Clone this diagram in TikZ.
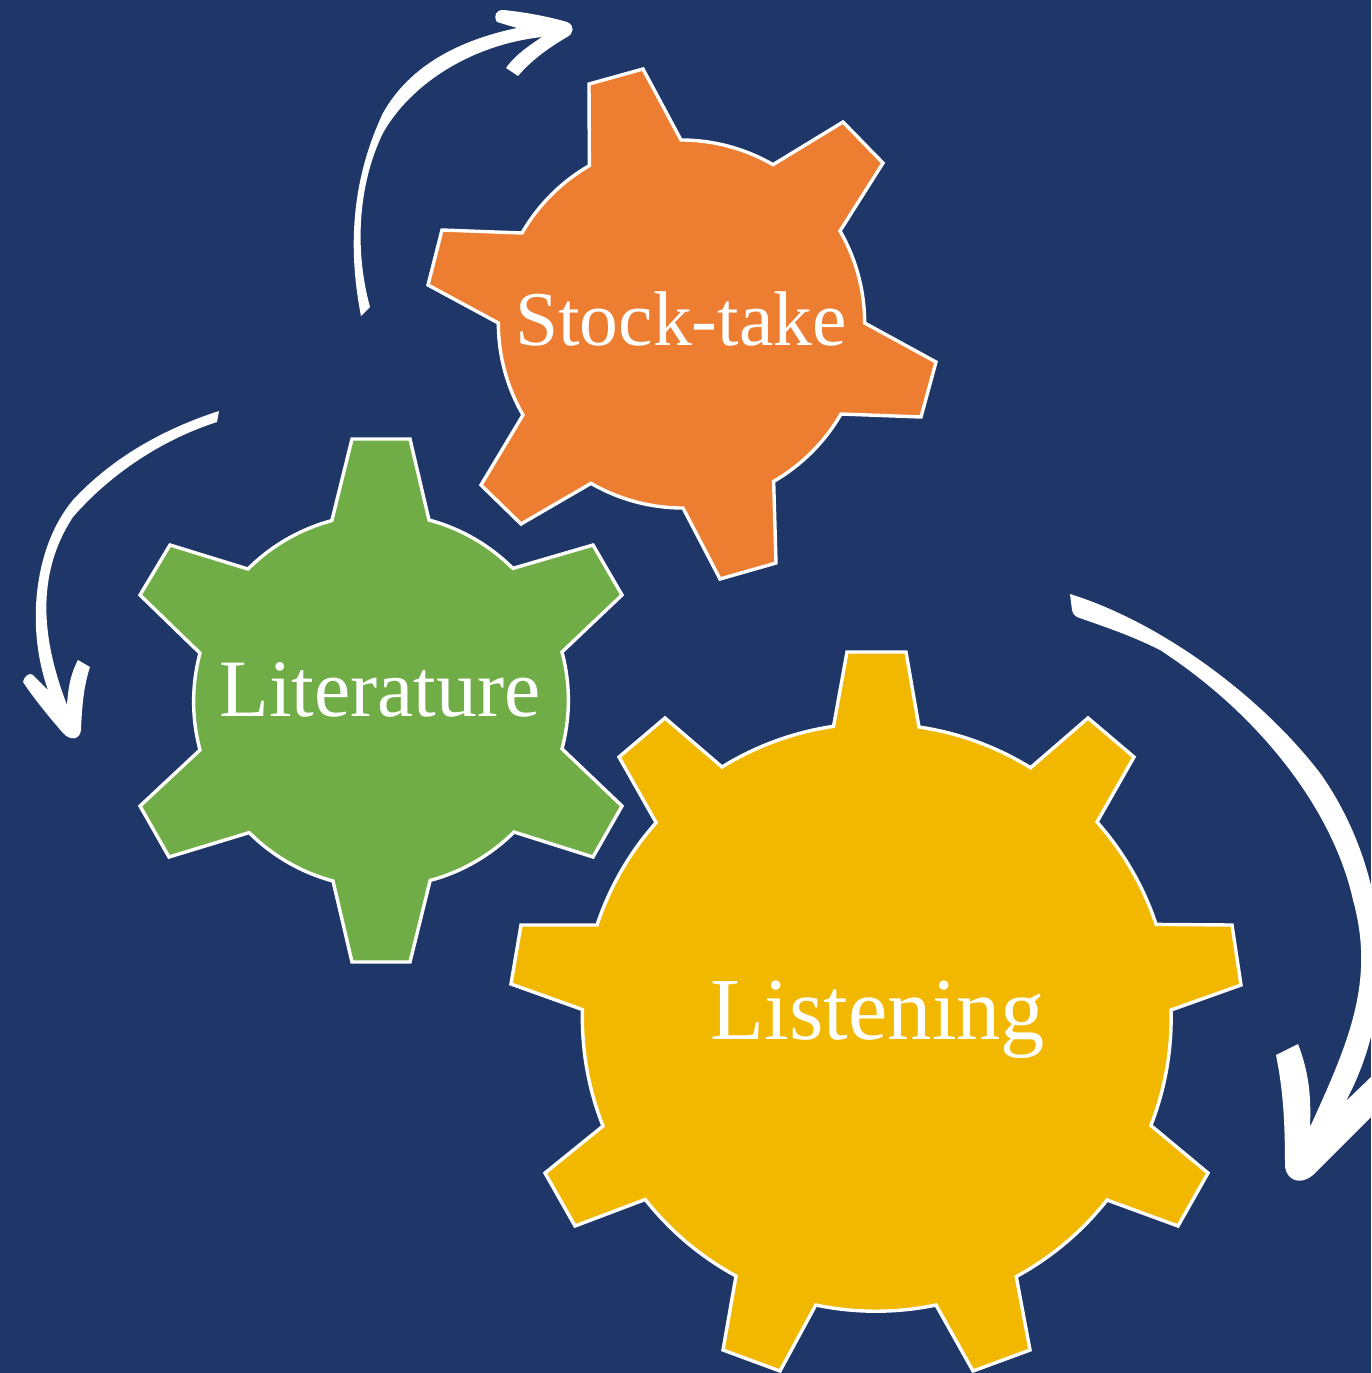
\documentclass[tikz,border=0pt]{standalone}
\usepackage{fontspec}
\setmainfont{Liberation Serif}
\definecolor{navybg}{HTML}{1F3668}
\definecolor{gearorange}{HTML}{ED7D31}
\definecolor{geargreen}{HTML}{70AD47}
\definecolor{gearyellow}{HTML}{F2B800}
\tikzset{
  gearshape/.style={draw=white,line width=3.4pt,line join=miter},
  gearlabel/.style={text=white,anchor=base,inner sep=0pt},
  sketcharrow/.style={fill=white,draw=none}
}
\begin{document}
\begin{tikzpicture}[x=1pt,y=-1pt]
\useasboundingbox (0,0) rectangle (1371,1373);
\fill[navybg] (0,0) rectangle (1371,1373);
\clip (0,0) rectangle (1371,1373);
% orange gear
\draw[gearshape,fill=gearorange]
 (681,140) arc[start angle=-90,end angle=-60,radius=184]
 -- (843,122) -- (883,163) -- (840,231) arc[start angle=-30,end angle=0,radius=184]
 -- (936,362) -- (921,417) -- (841,414) arc[start angle=30,end angle=60,radius=184]
 -- (776,563) -- (720,579) -- (683,508) arc[start angle=90,end angle=120,radius=184]
 -- (521,524) -- (481,485) -- (523,415) arc[start angle=150,end angle=180,radius=184]
 -- (428,285) -- (442,230) -- (522,233) arc[start angle=210,end angle=240,radius=184]
 -- (589,84) -- (643,69) -- cycle;
% green gear
\draw[gearshape,fill=geargreen]
 (429,520) arc[start angle=-75,end angle=-45,radius=187]
 -- (593,545) -- (622,595) -- (562,652) arc[start angle=-15,end angle=15,radius=187]
 -- (622,806) -- (593,857) -- (514,832) arc[start angle=45,end angle=75,radius=187]
 -- (410,962) -- (352,962) -- (333,881) arc[start angle=105,end angle=135,radius=187]
 -- (169,857) -- (140,806) -- (200,750) arc[start angle=165,end angle=195,radius=187]
 -- (140,595) -- (170,545) -- (248,569) arc[start angle=225,end angle=255,radius=187]
 -- (352,439) -- (410,439) -- cycle;
% yellow gear
\draw[gearshape,fill=gearyellow]
 (919,727) arc[start angle=-81.6,end angle=-58.3,radius=294]
 -- (1088,718) -- (1134,757) -- (1097,822) arc[start angle=-41.6,end angle=-18.4,radius=294]
 -- (1232,925) -- (1241,985) -- (1171,1010) arc[start angle=-1.6,end angle=21.4,radius=294]
 -- (1208,1173) -- (1178,1226) -- (1107,1200) arc[start angle=38.2,end angle=61.5,radius=294]
 -- (1030,1350) -- (973,1371) -- (936,1305) arc[start angle=78.2,end angle=101.8,radius=294]
 -- (780,1371) -- (723,1350) -- (736,1276) arc[start angle=118.5,end angle=141.8,radius=294]
 -- (575,1226) -- (545,1173) -- (603,1126) arc[start angle=158.4,end angle=181.6,radius=294]
 -- (511,984) -- (521,925) -- (597,925) arc[start angle=198.4,end angle=221.6,radius=294]
 -- (619,757) -- (665,718) -- (722,767) arc[start angle=238.3,end angle=261.6,radius=294]
 -- (847,652) -- (906,652) -- cycle;
% labels
\node[gearlabel,font=\fontsize{77.5}{78}\selectfont] (stock) at (681,345) {Stock-take};
\node[gearlabel,font=\fontsize{81.5}{82}\selectfont] (lit) at (380,716) {Literature};
\node[gearlabel,font=\fontsize{88.5}{89}\selectfont] (listen) at (878,1039) {Listening};
% top arrow
\fill[sketcharrow]
 (361,316) .. controls (349,255) and (349,185) .. (383,113)
 .. controls (410,65) and (460,40) .. (517,28)
 -- (497,22) .. controls (493,16) and (496,10) .. (503,10)
 .. controls (525,12) and (550,17) .. (567,22)
 .. controls (575,25) and (574,34) .. (567,37)
 .. controls (545,50) and (530,62) .. (518,76)
 -- (506,68) .. controls (515,55) and (530,45) .. (542,37)
 .. controls (470,45) and (410,85) .. (383,133)
 .. controls (360,180) and (353,245) .. (370,307) -- cycle;
% left arrow
\fill[sketcharrow]
 (219,411) .. controls (160,430) and (110,460) .. (73,500)
 .. controls (35,545) and (25,625) .. (48,690)
 -- (33,675) .. controls (30,672) and (24,676) .. (23,682)
 .. controls (35,700) and (50,718) .. (63,733)
 .. controls (70,741) and (80,740) .. (81,730)
 .. controls (82,705) and (84,685) .. (90,667)
 -- (78,660) .. controls (70,675) and (68,690) .. (67,705)
 .. controls (42,640) and (35,575) .. (73,517)
 .. controls (105,480) and (155,442) .. (217,422) -- cycle;
% right arrow
\fill[sketcharrow]
 (1070,594) .. controls (1160,622) and (1260,695) .. (1320,773)
 .. controls (1375,850) and (1410,980) .. (1346,1101)
 -- (1371,1077) -- (1371,1117) -- (1313,1175)
 .. controls (1300,1186) and (1287,1180) .. (1285,1167)
 .. controls (1285,1120) and (1283,1090) .. (1276,1055)
 -- (1298,1044) .. controls (1310,1075) and (1311,1100) .. (1310,1127)
 .. controls (1350,1040) and (1375,980) .. (1353,900)
 .. controls (1333,810) and (1260,715) .. (1160,650)
 .. controls (1130,635) and (1105,627) .. (1077,617)
 .. controls (1075,616) and (1073,614) .. (1072,610) -- cycle;
\end{tikzpicture}
\end{document}
